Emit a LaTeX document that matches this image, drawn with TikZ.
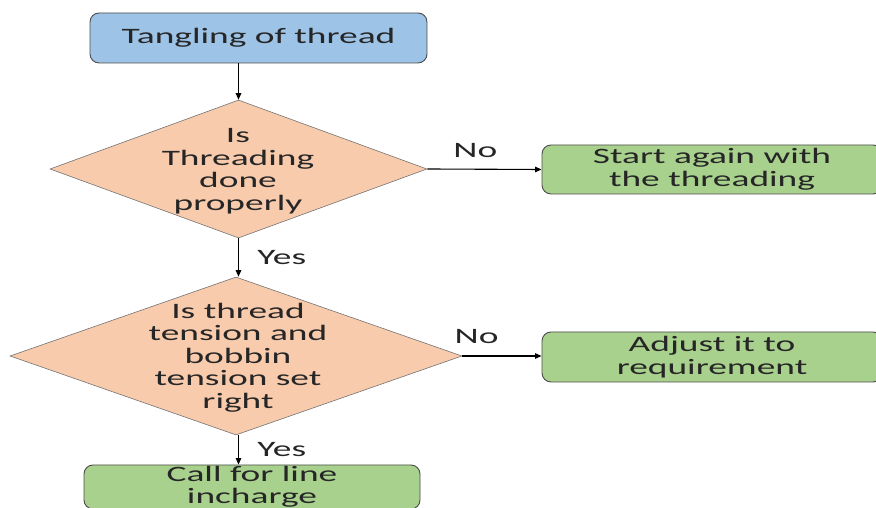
\documentclass[tikz,border=0pt]{standalone}
\usepackage{fontspec}
\setmainfont{Carlito}[FakeStretch=1.7]
\usetikzlibrary{shapes.geometric,arrows.meta}
\definecolor{boxblue}{HTML}{9DC3E6}
\definecolor{boxpeach}{HTML}{F8CBAD}
\definecolor{boxgreen}{HTML}{A9D18E}
\tikzset{
  flowbox/.style={draw=black!70,line width=0.9pt,rounded corners=9pt,minimum height=50pt,inner sep=0pt,align=center,text=black!85},
  decision/.style={diamond,draw=black!55,line width=0.6pt,fill=boxpeach,inner sep=0pt},
  flow/.style={line width=1.1pt,-{Triangle[length=6.5pt,width=5.5pt]}},
  lbl/.style={text=black!85}
}
\begin{document}
\begin{tikzpicture}[x=1pt,y=1pt,font=\fontsize{22}{22.5}\selectfont]
  \clip (0,0) rectangle (876,508);
  \node[flowbox,fill=boxblue,minimum width=337pt] (tangle) at (258.5,470) {Tangling of thread};
  \node[decision,minimum width=377pt,minimum height=138pt] (threaded) at (238.5,339) {};
  \node[lbl,align=center] (threadedtxt) at (238,337) {Is\\Threading\\done\\properly};
  \node[flowbox,fill=boxgreen,minimum width=340pt,minimum height=49pt] (again) at (712,338.5) {Start again with\\the threading};
  \node[decision,minimum width=452pt,minimum height=158pt] (tension) at (236,152) {};
  \node[lbl,align=center] (tensiontxt) at (238,150.5) {Is thread\\tension and\\bobbin\\tension set\\right};
  \node[flowbox,fill=boxgreen,minimum width=340pt] (adjust) at (712,151) {Adjust it to\\requirement};
  \node[flowbox,fill=boxgreen,minimum width=336pt,minimum height=44pt] (incharge) at (252,21) {Call for line\\incharge};
  % connectors
  \draw[flow] (tangle.south -| threaded.north) -- (threaded.north);
  \draw[flow] (threaded.east) -- node[lbl,above=8pt,pos=0.42] {No} (again.west);
  \draw[flow] (threaded.south) -- node[lbl,right,xshift=15pt] {Yes} (tension.north -| threaded.south);
  \draw[flow] (tension.east) -- node[lbl,above=8pt,pos=0.18] {No} (adjust.west |- tension.east);
  \draw[flow] (tension.south -| threaded.south) -- node[lbl,right,xshift=15pt] {Yes} (incharge.north -| threaded.south);
\end{tikzpicture}
\end{document}
